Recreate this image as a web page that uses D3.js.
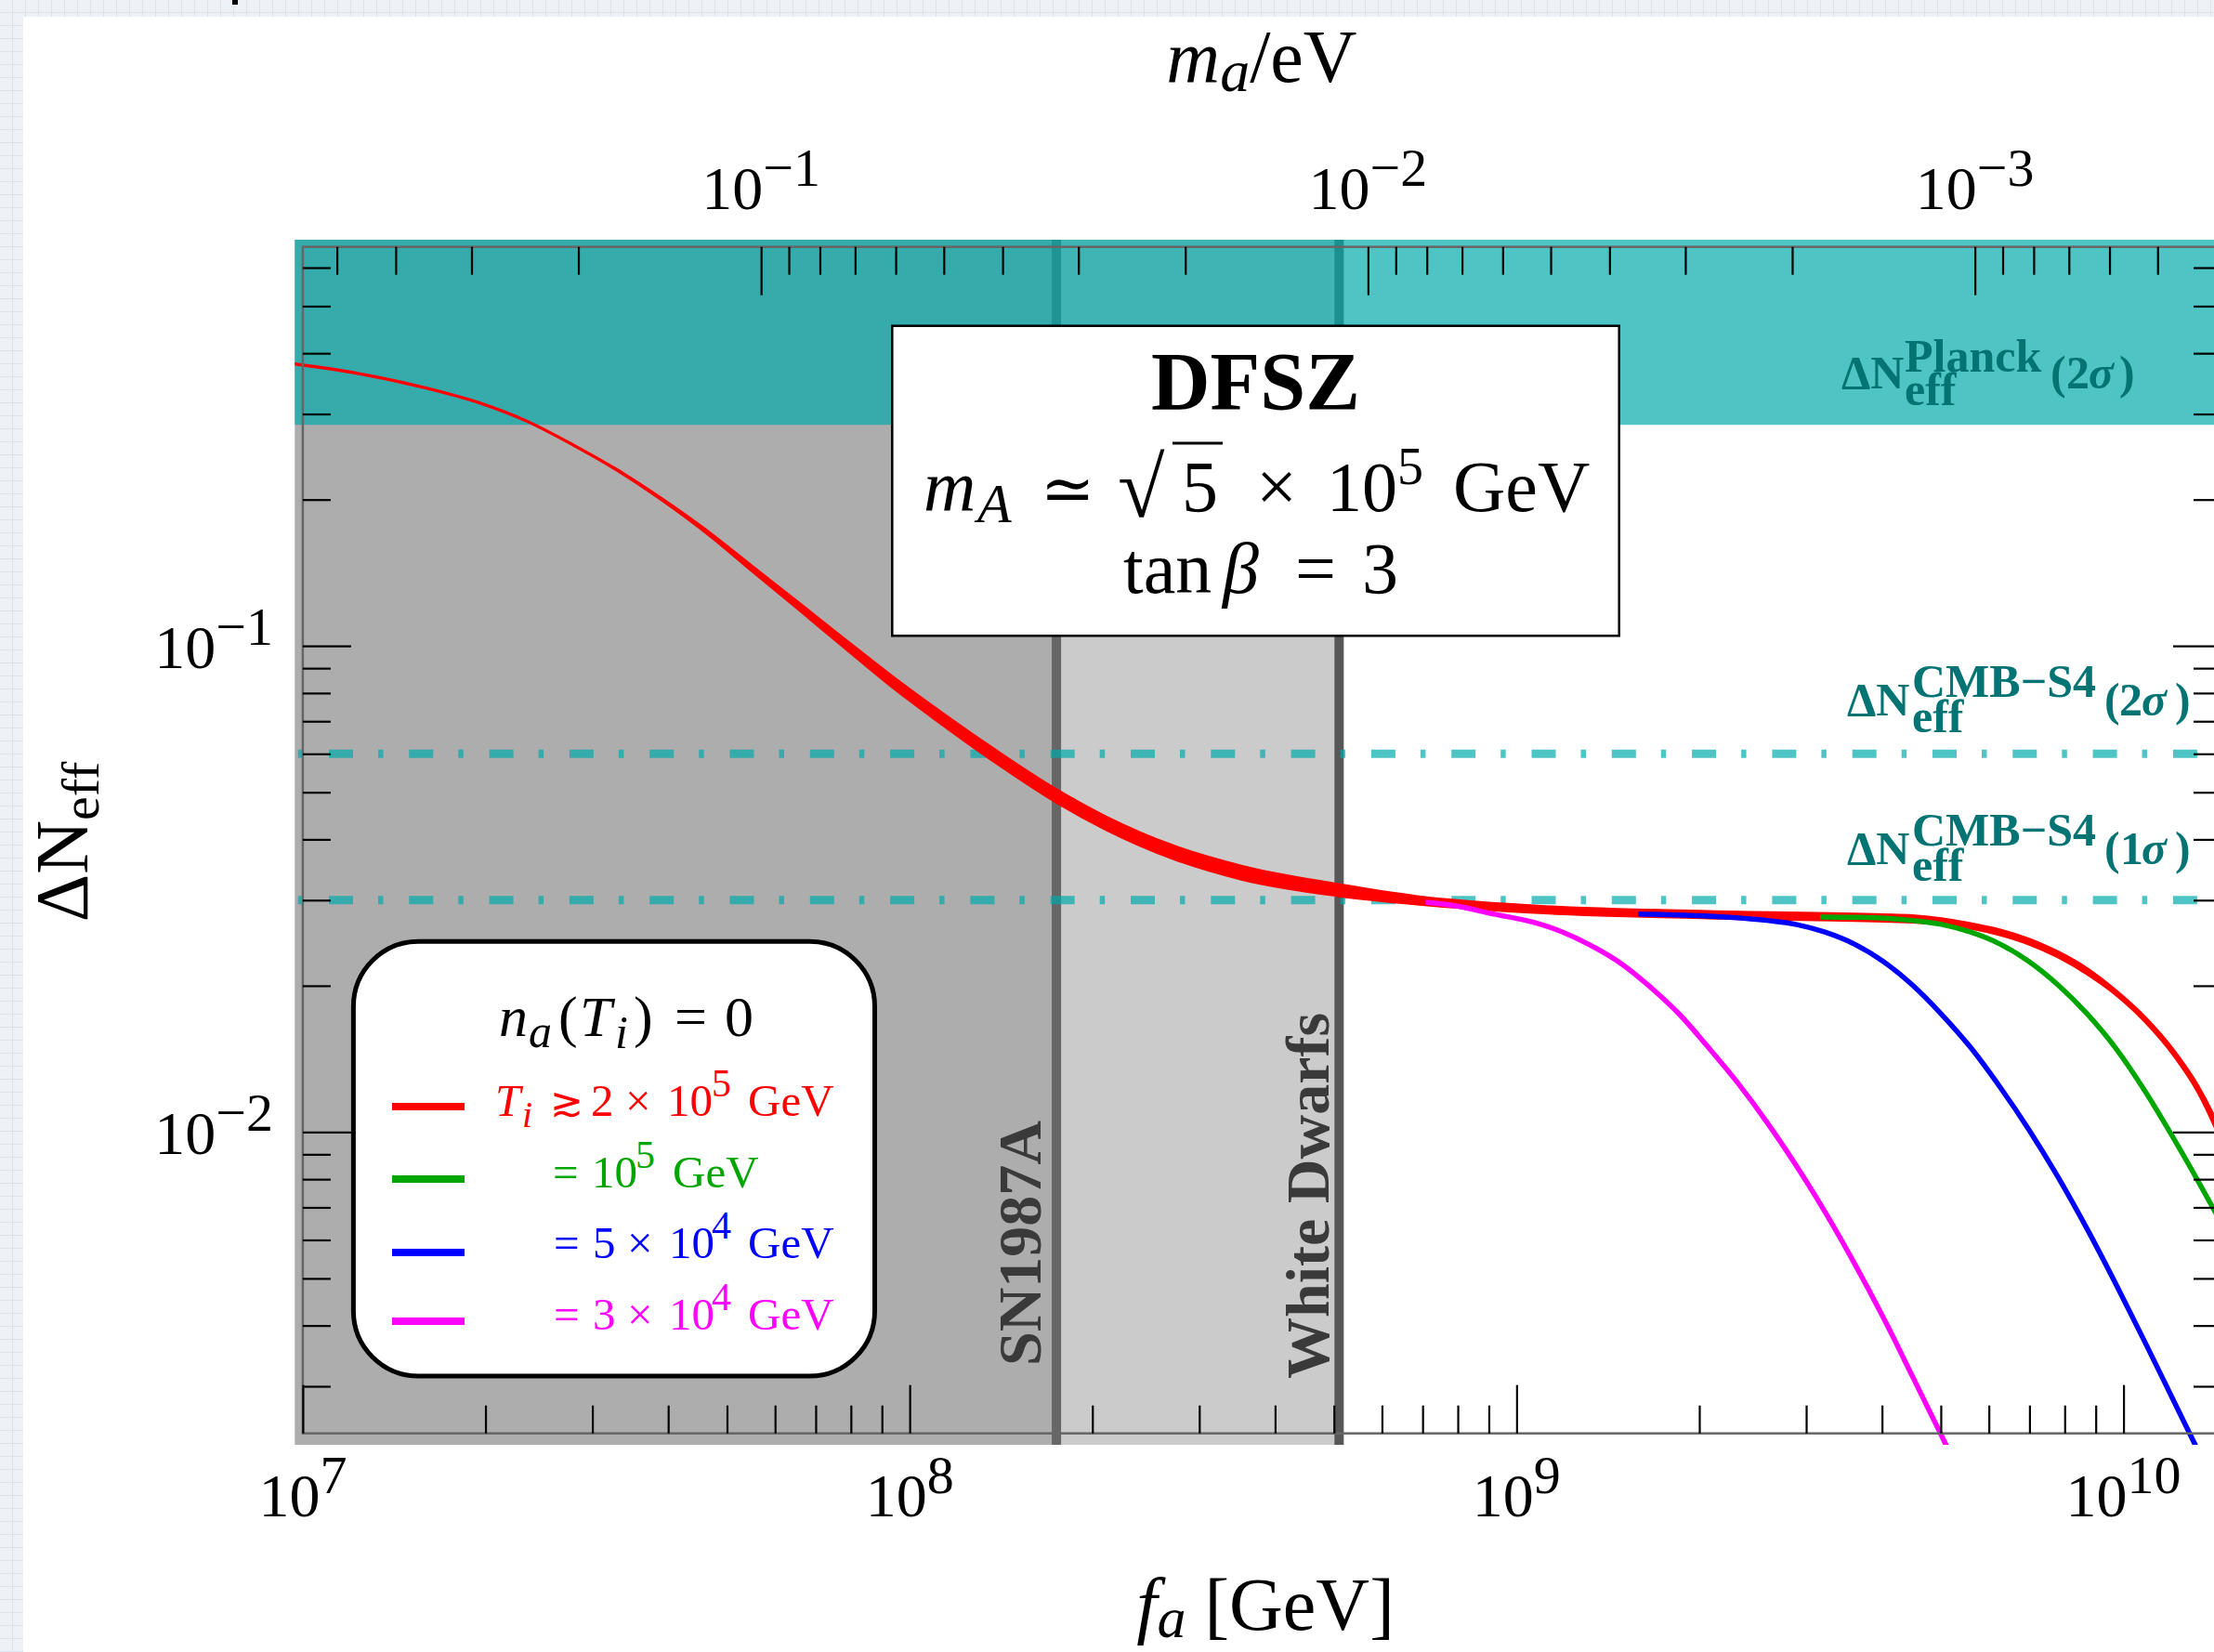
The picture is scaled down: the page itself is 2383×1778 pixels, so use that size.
<!DOCTYPE html>
<html>
<head>
<meta charset="utf-8">
<script src="https://cdn.jsdelivr.net/npm/d3@7/dist/d3.min.js"></script>
<style>
  html, body { margin:0; padding:0; background:#ffffff; overflow:hidden; }
  svg { display:block; }
  text { font-family: "Liberation Serif", "Times New Roman", "DejaVu Serif", serif; white-space: pre; }
</style>
</head>
<body>
<svg id="chart" width="2383" height="1778" xmlns="http://www.w3.org/2000/svg"></svg>
<script>
// ================= DATA =================
const faRange = [1e7, 1.45e10];     // f_a axis range [GeV]
const dNRange = [0.0024, 0.662];    // ΔN_eff axis range
const maPerFa = 5.69e6;             // m_a[eV] = maPerFa / f_a[GeV]

const faMajor = [1e7, 1e8, 1e9, 1e10];
const faMinor = [2e7,3e7,4e7,5e7,6e7,7e7,8e7,9e7, 2e8,3e8,4e8,5e8,6e8,7e8,8e8,9e8, 2e9,3e9,4e9,5e9,6e9,7e9,8e9,9e9];
const faTickExp = ["7", "8", "9", "10"];

const maMajor = [1e-1, 1e-2, 1e-3];
const maMinor = [0.5,0.4,0.3,0.2, 0.09,0.08,0.07,0.06,0.05,0.04,0.03,0.02,
                 0.009,0.008,0.007,0.006,0.005,0.004,0.003,0.002,
                 0.0009,0.0008,0.0007,0.0006,0.0005,0.0004];
const maTickExp = ["\u22121", "\u22122", "\u22123"];

const dNMajor = [1e-2, 1e-1];
const dNMinor = [0.003,0.004,0.005,0.006,0.007,0.008,0.009,
                 0.02,0.03,0.04,0.05,0.06,0.07,0.08,0.09,
                 0.2,0.3,0.4,0.5,0.6];
const dNTickExp = ["\u22122", "\u22121"];

const snBound = 1.745e8;   // SN1987A bound on f_a [GeV]
const wdBound = 5.10e8;    // White Dwarfs bound on f_a [GeV]
const planck2s = 0.285;    // Planck 2σ upper limit
const cmbs4_2s = 0.06;     // CMB-S4 2σ
const cmbs4_1s = 0.03;     // CMB-S4 1σ

// red band: T_i >~ 2x10^5 GeV
const redFa = [9.70e6, 1.225e7, 1.585e7, 1.950e7, 2.339e7, 2.799e7, 3.270e7, 3.917e7, 4.699e7, 5.483e7,
               6.577e7, 7.870e7, 9.204e7, 1.130e8, 1.390e8, 1.742e8, 2.104e8, 2.723e8, 3.532e8, 5.070e8,
               6.855e8, 1.067e9, 2.070e9, 4.018e9, 4.487e9, 5.598e9, 6.252e9, 6.982e9, 7.798e9, 8.710e9,
               9.727e9, 1.086e10, 1.213e10, 1.326e10, 1.409e10, 1.462e10];
const redLo = [0.3796, 0.3636, 0.3396, 0.3162, 0.2897, 0.2581, 0.2310, 0.1990, 0.1680, 0.14305,
               0.11861, 0.09838, 0.08371, 0.06901, 0.05740, 0.04775, 0.04195, 0.03648, 0.03310, 0.03065,
               0.02945, 0.02831, 0.02757, 0.02715, 0.02703, 0.02627, 0.02547, 0.02437, 0.02292, 0.02115,
               0.01915, 0.01686, 0.01432, 0.01209, 0.01035, 0.00929];
const redHi = [0.3804, 0.3644, 0.3404, 0.3168, 0.2903, 0.2587, 0.2318, 0.2004, 0.1704, 0.14637,
               0.12242, 0.10246, 0.08795, 0.07284, 0.06086, 0.05070, 0.04454, 0.03877, 0.03521, 0.03232,
               0.03051, 0.02919, 0.02843, 0.02800, 0.02787, 0.02685, 0.02606, 0.02494, 0.02348, 0.02169,
               0.01952, 0.01721, 0.01467, 0.01246, 0.01079, 0.00972];

// green: T_i = 10^5 GeV
const greenFa = [3.162e9, 3.681e9, 4.487e9, 5.012e9, 5.598e9, 6.252e9, 6.982e9, 7.798e9, 8.710e9, 9.727e9,
                 1.086e10, 1.213e10, 1.355e10, 1.409e10, 1.462e10];
const greenDN = [0.02770, 0.02765, 0.02725, 0.02675, 0.02578, 0.02438, 0.02244, 0.02008, 0.017507, 0.014836,
                 0.012114, 0.009641, 0.007566, 0.006928, 0.006373];

// blue: T_i = 5x10^4 GeV
const blueFa = [1.585e9, 2.070e9, 2.582e9, 2.884e9, 3.221e9, 3.597e9, 4.018e9, 4.487e9, 5.012e9, 5.598e9,
                6.252e9, 6.982e9, 7.798e9, 8.710e9, 9.727e9, 1.086e10, 1.213e10, 1.312e10, 1.365e10];
const blueDN = [0.02810, 0.02780, 0.02725, 0.02675, 0.02578, 0.02438, 0.02244, 0.02008, 0.01748, 0.01493,
                0.01240, 0.01012, 0.008086, 0.006320, 0.004853, 0.003687, 0.002781, 0.002276, 0.002063];

// magenta: T_i = 3x10^4 GeV
const magFa = [7.079e8, 7.943e8, 9.141e8, 1.067e9, 1.191e9, 1.330e9, 1.486e9, 1.660e9, 1.854e9, 2.070e9,
               2.312e9, 2.582e9, 2.884e9, 3.221e9, 3.597e9, 4.018e9, 4.487e9, 5.012e9, 5.183e9, 5.370e9];
const magDN = [0.0297, 0.0292, 0.02810, 0.02700, 0.02578, 0.02415, 0.02223, 0.01989, 0.01748, 0.01493,
               0.01264, 0.01050, 0.00856, 0.00686, 0.00539, 0.00416, 0.00315, 0.002377, 0.00218, 0.001984];

// ================= LAYOUT =================
const W = 2383, H = 1778;
const X0 = 325.9, X1 = 2391, Y0 = 1542.7, Y1 = 265.7;   // frame
const PADL = 317.3, PADT = 258, PADB = 1555, PADR = W + 20; // filled plot range incl. padding
const TEAL = "rgb(0,170,170)", TEAL_OP = 0.69, TEXT_TEAL = "#047373";

const svg = d3.select("#chart");

const x = d3.scaleLog().domain(faRange).range([X0, X1]);
const xTop = d3.scaleLog().domain([maPerFa / faRange[0], maPerFa / faRange[1]]).range([X0, X1]);
const y = d3.scaleLog().domain(dNRange).range([Y0, Y1]);

// page background
const defs = svg.append("defs");
const pat = defs.append("pattern").attr("id", "grid").attr("width", 14).attr("height", 14)
  .attr("patternUnits", "userSpaceOnUse");
pat.append("rect").attr("width", 14).attr("height", 14).attr("fill", "#eef2f6");
pat.append("path").attr("d", "M13.5 0 V14 M0 13.5 H14").attr("stroke", "#dbe3ec").attr("stroke-width", 1);
svg.append("rect").attr("width", W).attr("height", H).attr("fill", "url(#grid)");
svg.append("rect").attr("x", 25).attr("y", 18).attr("width", W - 25).attr("height", H - 18).attr("fill", "#fff");
svg.append("rect").attr("x", 250).attr("y", 0).attr("width", 6).attr("height", 5).attr("fill", "#000");

defs.append("clipPath").attr("id", "plotclip").append("rect")
  .attr("x", PADL).attr("y", PADT).attr("width", PADR - PADL).attr("height", PADB - PADT);

// excluded regions
svg.append("rect").attr("x", PADL).attr("y", PADT).attr("width", x(snBound) - PADL)
  .attr("height", PADB - PADT).attr("fill", "#adadad");
svg.append("rect").attr("x", x(snBound)).attr("y", PADT).attr("width", x(wdBound) - x(snBound))
  .attr("height", PADB - PADT).attr("fill", "#cbcbcb");
svg.append("line").attr("x1", x(snBound)).attr("x2", x(snBound)).attr("y1", PADT).attr("y2", PADB)
  .attr("stroke", "#666666").attr("stroke-width", 10);
svg.append("line").attr("x1", x(wdBound)).attr("x2", x(wdBound)).attr("y1", PADT).attr("y2", PADB)
  .attr("stroke", "#575757").attr("stroke-width", 10);

// Planck band
svg.append("rect").attr("x", PADL).attr("y", PADT).attr("width", PADR - PADL)
  .attr("height", y(planck2s) - PADT).attr("fill", TEAL).attr("fill-opacity", TEAL_OP);

// CMB-S4 dash-dotted lines
[cmbs4_2s, cmbs4_1s].forEach(v => {
  svg.append("line").attr("x1", PADL).attr("x2", PADR).attr("y1", y(v)).attr("y2", y(v))
    .attr("stroke", TEAL).attr("stroke-opacity", TEAL_OP).attr("stroke-width", 9)
    .attr("stroke-dasharray", "26,27,5.5,27.8").attr("stroke-dashoffset", 49.6);
});

// curves
const cg = svg.append("g").attr("clip-path", "url(#plotclip)");
const redArea = d3.area().x(d => x(d[0])).y0(d => y(d[1])).y1(d => y(d[2])).curve(d3.curveMonotoneX);
cg.append("path").datum(redFa.map((f, i) => [f, redLo[i], redHi[i]]))
  .attr("d", redArea).attr("fill", "#ff0000").attr("stroke", "#ff0000").attr("stroke-width", 3)
  .attr("stroke-linejoin", "round");
const line = d3.line().x(d => x(d[0])).y(d => y(d[1])).curve(d3.curveMonotoneX);
[[magFa, magDN, "#ff00ff"], [blueFa, blueDN, "#0000ff"], [greenFa, greenDN, "#00a600"]].forEach(([fa, dn, c]) => {
  cg.append("path").datum(fa.map((f, i) => [f, dn[i]])).attr("d", line)
    .attr("fill", "none").attr("stroke", c).attr("stroke-width", 5.5).attr("stroke-linecap", "butt");
});

// frame
svg.append("rect").attr("x", X0).attr("y", Y1).attr("width", X1 - X0).attr("height", Y0 - Y1)
  .attr("fill", "none").attr("stroke", "#666").attr("stroke-width", 2.5);

// ticks
function tickSet(gen, scale, vals, len, tr) {
  const g = svg.append("g").attr("transform", tr)
    .call(gen(scale).tickValues(vals).tickSize(len).tickFormat(() => ""));
  g.select(".domain").remove();
  g.selectAll(".tick text").remove();
  g.selectAll(".tick line").attr("stroke", "#000").attr("stroke-width", 2.2);
}
tickSet(d3.axisTop, x, faMajor, 52, `translate(0,${Y0})`);
tickSet(d3.axisTop, x, faMinor, 30, `translate(0,${Y0})`);
tickSet(d3.axisBottom, xTop, maMajor, 52, `translate(0,${Y1})`);
tickSet(d3.axisBottom, xTop, maMinor, 30, `translate(0,${Y1})`);
tickSet(d3.axisRight, y, dNMajor, 52, `translate(${X0},0)`);
tickSet(d3.axisRight, y, dNMinor, 30, `translate(${X0},0)`);
tickSet(d3.axisLeft, y, dNMajor, 52, `translate(${X1},0)`);
tickSet(d3.axisLeft, y, dNMinor, 30, `translate(${X1},0)`);

// tick labels 10^k
function powLabel(cx, baseline, exp, anchor) {
  const t = svg.append("text").attr("y", baseline).attr("font-size", 66);
  t.append("tspan").text("10");
  t.append("tspan").attr("font-size", 58).attr("dy", -25).text(exp);
  const w = t.node().getComputedTextLength();
  t.attr("x", anchor === "end" ? cx - w : cx - w / 2);
}
faMajor.forEach((v, i) => powLabel(x(v), 1632, faTickExp[i], "middle"));
maMajor.forEach((v, i) => powLabel(xTop(v), 225, maTickExp[i], "middle"));
dNMajor.forEach((v, i) => powLabel(294, y(v) + 24, dNTickExp[i], "end"));

// rich text helper (absolute pieces)
function pieces(list, common) {
  const t = svg.append("text");
  Object.entries(common || {}).forEach(([k, v]) => t.attr(k, v));
  list.forEach(p => {
    const s = t.append("tspan").attr("x", p.x).attr("y", p.y).text(p.t);
    if (p.size) s.attr("font-size", p.size);
    if (p.it) s.attr("font-style", "italic");
    if (p.b) s.attr("font-weight", "bold");
    if (p.fill) s.attr("fill", p.fill);
  });
  return t;
}
// flowing text centered
function flow(cx, baseline, list, common, transform) {
  const g = svg.append("g");
  if (transform) g.attr("transform", transform);
  const t = g.append("text").attr("y", baseline);
  Object.entries(common || {}).forEach(([k, v]) => t.attr(k, v));
  let cur = 0;
  list.forEach(p => {
    const s = t.append("tspan").text(p.t);
    const off = p.dy || 0;
    s.attr("dy", off - cur); cur = off;
    if (p.size) s.attr("font-size", p.size);
    if (p.it) s.attr("font-style", "italic");
  });
  const w = t.node().getComputedTextLength();
  t.attr("x", cx - w / 2);
}

// axis titles
flow(1358, 88, [{t: "m", it: true, size: 80}, {t: "a", it: true, size: 64, dy: 10}, {t: "/eV", size: 80}]);
flow(1362, 1754, [{t: "f", it: true, size: 80}, {t: "a", it: true, size: 62, dy: 8}, {t: " [GeV]", size: 80}]);
flow(0, 0, [{t: "\u0394N", size: 80}, {t: "eff", size: 58, dy: 12}], {}, "translate(94,906) rotate(-90)");

// DFSZ box
svg.append("rect").attr("x", 960.3).attr("y", 350.7).attr("width", 782.4).attr("height", 333.6)
  .attr("fill", "#fff").attr("stroke", "#000").attr("stroke-width", 2.5);
pieces([{t: "DFSZ", x: 1239, y: 440, size: 88, b: true}]);
pieces([
  {t: "m", x: 994, y: 550, size: 78, it: true},
  {t: "A", x: 1052, y: 562, size: 60, it: true},
  {t: "\u2243", x: 1120, y: 550, size: 70},
  {t: "\u221A", x: 1203, y: 556, size: 92},
  {t: "5", x: 1272, y: 550, size: 78},
  {t: "\u00D7", x: 1352, y: 550, size: 78},
  {t: "10", x: 1428, y: 550, size: 76},
  {t: "5", x: 1504, y: 521, size: 56},
  {t: "GeV", x: 1564, y: 550, size: 78}
]);
svg.append("line").attr("x1", 1262).attr("x2", 1316).attr("y1", 477).attr("y2", 477)
  .attr("stroke", "#000").attr("stroke-width", 3);
pieces([
  {t: "tan", x: 1209, y: 638, size: 78},
  {t: "\u03B2", x: 1316, y: 638, size: 78, it: true},
  {t: "=", x: 1394, y: 638, size: 78},
  {t: "3", x: 1466, y: 638, size: 78}
]);

// constraint labels
pieces([{t: "SN1987A", x: 0, y: 0}], {"font-size": 66, "font-weight": "bold", fill: "#3a3a3a",
  transform: "translate(1120,1470) rotate(-90)"});
pieces([{t: "White Dwarfs", x: 0, y: 0}], {"font-size": 66, "font-weight": "bold", fill: "#3a3a3a",
  transform: "translate(1430,1484) rotate(-90)"});

const tb = {"font-size": 50, "font-weight": "bold", fill: TEXT_TEAL};
pieces([
  {t: "\u0394N", x: 1982, y: 418}, {t: "Planck", x: 2050, y: 400}, {t: "eff", x: 2050, y: 436},
  {t: "(", x: 2207, y: 418}, {t: "2", x: 2224, y: 418}, {t: "\u03C3", x: 2248, y: 418, it: true}, {t: ")", x: 2281, y: 418}
], tb);
pieces([
  {t: "\u0394N", x: 1988, y: 770}, {t: "CMB\u2212S4", x: 2058, y: 750}, {t: "eff", x: 2058, y: 788},
  {t: "(", x: 2265, y: 770}, {t: "2", x: 2281, y: 770}, {t: "\u03C3", x: 2305, y: 770, it: true}, {t: ")", x: 2341, y: 770}
], tb);
pieces([
  {t: "\u0394N", x: 1988, y: 930}, {t: "CMB\u2212S4", x: 2058, y: 910}, {t: "eff", x: 2058, y: 948},
  {t: "(", x: 2265, y: 930}, {t: "1", x: 2282, y: 930}, {t: "\u03C3", x: 2305, y: 930, it: true}, {t: ")", x: 2341, y: 930}
], tb);

// legend
svg.append("rect").attr("x", 380.4).attr("y", 1013.3).attr("width", 561.1).attr("height", 467.7)
  .attr("rx", 70).attr("ry", 70).attr("fill", "#fff").attr("stroke", "#000").attr("stroke-width", 5);
pieces([
  {t: "n", x: 537, y: 1115, it: true}, {t: "a", x: 569, y: 1127, size: 50, it: true},
  {t: "(", x: 601, y: 1115}, {t: "T", x: 624, y: 1115, it: true}, {t: "i", x: 662, y: 1128, size: 50, it: true},
  {t: ")", x: 682, y: 1115}, {t: "=", x: 726, y: 1115}, {t: "0", x: 780, y: 1115}
], {"font-size": 62});

const legendColors = ["#ff0000", "#00a600", "#0000ff", "#ff00ff"];
const legendLineY = [1191, 1269, 1348, 1422];
legendColors.forEach((c, i) => {
  svg.append("line").attr("x1", 422).attr("x2", 500).attr("y1", legendLineY[i]).attr("y2", legendLineY[i])
    .attr("stroke", c).attr("stroke-width", 8);
});
pieces([
  {t: "T", x: 533, y: 1201, it: true}, {t: "i", x: 562, y: 1213, size: 40, it: true},
  {t: "\u2273", x: 592, y: 1201, size: 43}, {t: "2", x: 636, y: 1201}, {t: "\u00D7", x: 673, y: 1201},
  {t: "10", x: 718, y: 1201}, {t: "5", x: 766, y: 1180, size: 42}, {t: "GeV", x: 805, y: 1201}
], {"font-size": 49, fill: legendColors[0]});
pieces([
  {t: "=", x: 595, y: 1278}, {t: "10", x: 637, y: 1278}, {t: "5", x: 684, y: 1257, size: 42}, {t: "GeV", x: 724, y: 1278}
], {"font-size": 49, fill: legendColors[1]});
pieces([
  {t: "=", x: 596, y: 1354}, {t: "5", x: 638, y: 1354}, {t: "\u00D7", x: 675, y: 1354}, {t: "10", x: 720, y: 1354},
  {t: "4", x: 766, y: 1333, size: 42}, {t: "GeV", x: 805, y: 1354}
], {"font-size": 49, fill: legendColors[2]});
pieces([
  {t: "=", x: 596, y: 1431}, {t: "3", x: 638, y: 1431}, {t: "\u00D7", x: 675, y: 1431}, {t: "10", x: 720, y: 1431},
  {t: "4", x: 766, y: 1410, size: 42}, {t: "GeV", x: 805, y: 1431}
], {"font-size": 49, fill: legendColors[3]});
</script>
</body>
</html>
